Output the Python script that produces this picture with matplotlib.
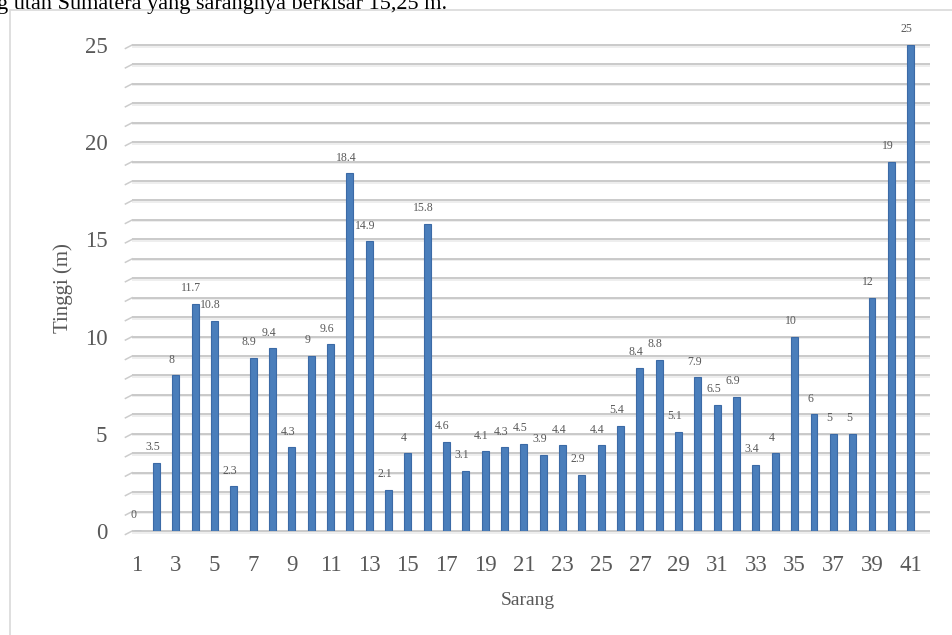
import numpy as np
import matplotlib
matplotlib.use('Agg')
import matplotlib.pyplot as plt
from matplotlib.patches import Rectangle

sarang = list(range(1, 42))
tinggi = [0, 3.5, 8, 11.7, 10.8, 2.3, 8.9, 9.4, 4.3, 9, 9.6, 18.4, 14.9, 2.1, 4,
          15.8, 4.6, 3.1, 4.1, 4.3, 4.5, 3.9, 4.4, 2.9, 4.4, 5.4, 8.4, 8.8, 5.1,
          7.9, 6.5, 6.9, 3.4, 4, 10, 6, 5, 5, 12, 19, 25]
label_txt = ['0', '3.5', '8', '11.7', '10.8', '2.3', '8.9', '9.4', '4.3', '9', '9.6',
             '18.4', '14.9', '2.1', '4', '15.8', '4.6', '3.1', '4.1', '4.3', '4.5',
             '3.9', '4.4', '2.9', '4.4', '5.4', '8.4', '8.8', '5.1', '7.9', '6.5',
             '6.9', '3.4', '4', '10', '6', '5', '5', '12', '19', '25']
yticks = [0, 5, 10, 15, 20, 25]
xticks = list(range(1, 42, 2))

plt.rcParams['font.family'] = ['Liberation Serif', 'DejaVu Serif']
grey = '#595959'

fig = plt.figure(figsize=(9.53, 6.35), dpi=100)

# chart frame (part of a document screenshot)
fig.patches.append(Rectangle((10/953, -0.1), 2.0, 1.1 - 10/635,
                             transform=fig.transFigure, fill=False,
                             ec='#d9d9d9', lw=1.2))
fig.text(-0.003, 1 - 9/635, 'g utan Sumatera yang sarangnya berkisar 15,25 m.',
         fontsize=16, va='baseline', ha='left', color='black')

ax = fig.add_axes([0.1316, 0.1638, 0.8443, 0.7654])
ax.set_xlim(0.4, 42)
ax.set_ylim(0, 25)

# 3D-ish grid lines, one per unit
for g in range(0, 26):
    ax.plot([0.75, 42], [g - 0.08, g - 0.08], color='#ebebeb', lw=1.2,
            solid_capstyle='butt', clip_on=False, zorder=1)
    ax.plot([0.75, 42], [g, g], color='#c6c6c6', lw=1.3,
            solid_capstyle='butt', clip_on=False, zorder=1)
    ax.plot([0.4, 0.75], [g - 0.18, g], color='#cccccc', lw=1.1,
            clip_on=False, zorder=1)

ax.bar(sarang, tinggi, width=0.36, color='#4a7ebb', edgecolor='#3b6aa6',
       linewidth=0.8, zorder=3)

for x, v, t in zip(sarang, tinggi, label_txt):
    ax.text(x - 0.2, v + 0.5, t, fontsize=8.5, color=grey,
            ha='center', va='bottom', zorder=4)

for s in ax.spines.values():
    s.set_visible(False)
ax.set_yticks(yticks)
ax.set_xticks(xticks)
ax.tick_params(axis='both', length=0, labelsize=16.5, colors=grey)
ax.tick_params(axis='y', pad=13)
ax.tick_params(axis='x', pad=17)
ax.set_ylabel('Tinggi (m)', fontsize=15, color=grey, labelpad=8)
ax.set_xlabel('Sarang', fontsize=14, color=grey, labelpad=12)

fig.savefig('out.png', dpi=100)
